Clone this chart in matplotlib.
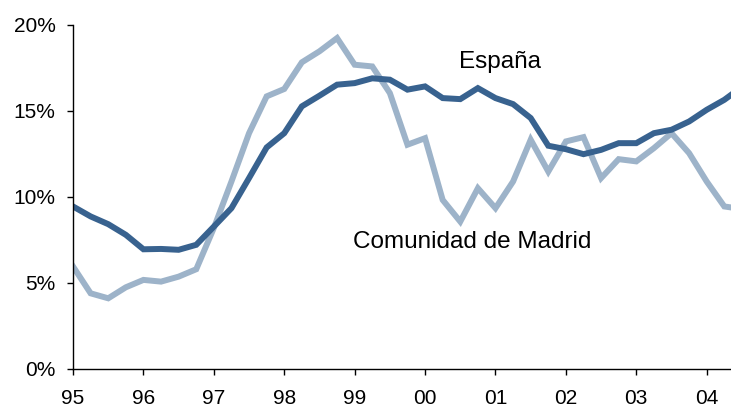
import matplotlib.pyplot as plt
from matplotlib.ticker import FuncFormatter

plt.rcParams['font.family'] = ['Liberation Sans', 'DejaVu Sans']

# quarterly data, 1995Q1 .. 2004Q3
quarters = [1995 + 0.25 * i for i in range(39)]

espana = [9.45, 8.87, 8.42, 7.80, 6.96, 6.98, 6.93, 7.22,
          8.28, 9.35, 11.10, 12.88, 13.71, 15.27, 15.89, 16.53,
          16.62, 16.90, 16.82, 16.24, 16.43, 15.75, 15.69, 16.33,
          15.75, 15.40, 14.59, 12.98, 12.78, 12.49, 12.74, 13.13,
          13.13, 13.71, 13.91, 14.39, 15.07, 15.65, 16.40]

madrid = [5.96, 4.40, 4.11, 4.75, 5.18, 5.08, 5.37, 5.80,
          8.20, 10.90, 13.71, 15.85, 16.28, 17.83, 18.47, 19.24,
          17.69, 17.59, 16.04, 13.04, 13.42, 9.83, 8.57, 10.51,
          9.35, 10.90, 13.33, 11.48, 13.23, 13.48, 11.10, 12.20,
          12.07, 12.84, 13.71, 12.55, 10.90, 9.45, 9.30]

year_ticks = list(range(1995, 2005))

dark = '#38628f'
light = '#9db3c9'

fig = plt.figure(figsize=(7.31, 4.09), dpi=100)
ax = fig.add_axes([0.0999, 0.0978, 0.9001, 0.8411])

ax.plot(quarters, madrid, color=light, lw=4.3, solid_joinstyle='miter')
ax.plot(quarters, espana, color=dark, lw=4.3, solid_joinstyle='miter')

ax.text(2001.07, 17.85, 'España', fontsize=17.5, ha='center', va='center')
ax.text(2000.67, 7.38, 'Comunidad de Madrid', fontsize=17.5, ha='center', va='center')

ax.set_xlim(1995, 2004.345)
ax.set_ylim(0, 20)
ax.set_xticks(year_ticks)
ax.xaxis.set_major_formatter(FuncFormatter(lambda v, p: f'{int(round(v)) % 100:02d}'))
ax.set_yticks([0, 5, 10, 15, 20])
ax.yaxis.set_major_formatter(FuncFormatter(lambda v, p: f'{int(v)}%'))

for side in ['top', 'right']:
    ax.spines[side].set_visible(False)
for side in ['left', 'bottom']:
    ax.spines[side].set_linewidth(1.0)

ax.tick_params(axis='both', direction='out', length=4.5, width=1, labelsize=15)
ax.tick_params(axis='x', pad=10)
ax.tick_params(axis='y', pad=8)

fig.savefig('out.png', dpi=100)
